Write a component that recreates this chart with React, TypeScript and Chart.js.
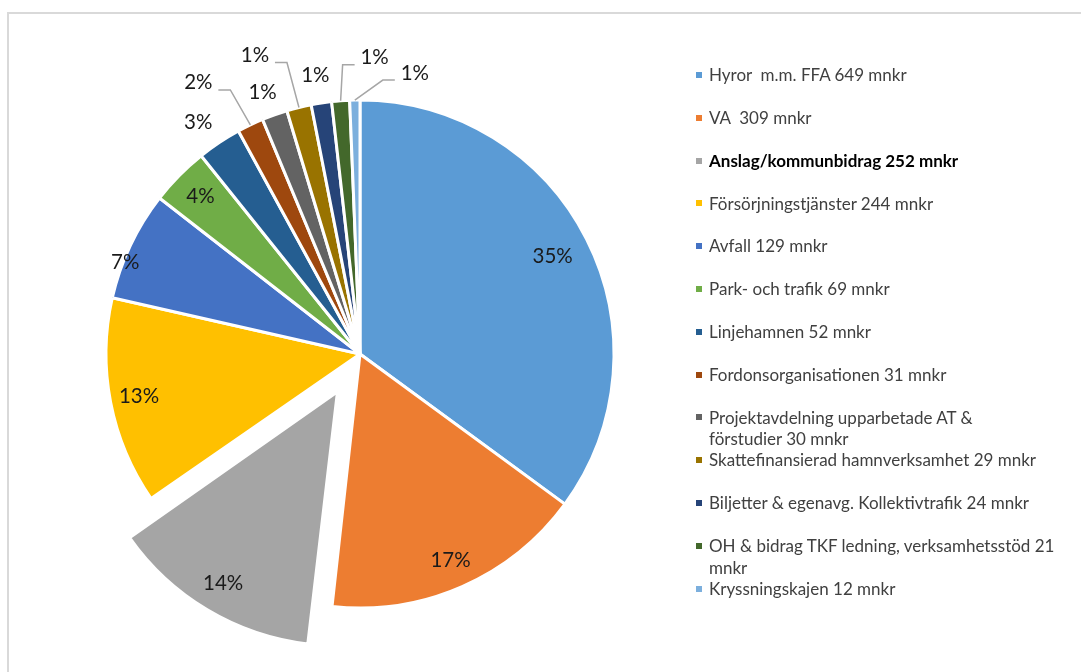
import React, { useEffect, useRef } from "react";
import { Chart, registerables } from "chart.js";

Chart.register(...registerables);

// ---- data ----
const categories = [
  "Hyror  m.m. FFA",
  "VA",
  "Anslag/kommunbidrag",
  "Försörjningstjänster",
  "Avfall",
  "Park- och trafik",
  "Linjehamnen",
  "Fordonsorganisationen",
  "Projektavdelning upparbetade AT & förstudier",
  "Skattefinansierad hamnverksamhet",
  "Biljetter & egenavg. Kollektivtrafik",
  "OH & bidrag TKF ledning, verksamhetsstöd",
  "Kryssningskajen",
];
const values = [649, 309, 252, 244, 129, 69, 52, 31, 30, 29, 24, 21, 12];
const pctLabels = ["35%", "17%", "14%", "13%", "7%", "4%", "3%", "2%", "1%", "1%", "1%", "1%", "1%"];
const legendLabels = [
  "Hyror  m.m. FFA 649 mnkr",
  "VA  309 mnkr",
  "Anslag/kommunbidrag 252 mnkr",
  "Försörjningstjänster 244 mnkr",
  "Avfall 129 mnkr",
  "Park- och trafik 69 mnkr",
  "Linjehamnen 52 mnkr",
  "Fordonsorganisationen 31 mnkr",
  "Projektavdelning upparbetade AT &\nförstudier 30 mnkr",
  "Skattefinansierad hamnverksamhet 29 mnkr",
  "Biljetter & egenavg. Kollektivtrafik 24 mnkr",
  "OH & bidrag TKF ledning, verksamhetsstöd 21\nmnkr",
  "Kryssningskajen 12 mnkr",
];
const boldLegendIndex = 2;
const explodedIndex = 2;

// ---- styles ----
const colors = [
  "#5B9BD5", "#ED7D31", "#A5A5A5", "#FFC000", "#4472C4", "#70AD47", "#255E91",
  "#9E480E", "#636363", "#997300", "#264478", "#43682B", "#7CAFDD",
];
const FONT = "Lato, 'Open Sans', sans-serif";
const EXPLODE_PX = 44;
const RADIUS = 254;

// label placement: radial distance from slice centre, then nudge; leader line flag
const labelPlacement = [
  { r: 216, dx: 0, dy: 0, leader: false },
  { r: 225, dx: 0, dy: 0, leader: false },
  { r: 223, dx: 0, dy: 0, leader: false },
  { r: 225, dx: 0, dy: 0, leader: false },
  { r: 252, dx: -7, dy: 16, leader: false },
  { r: 224, dx: 0, dy: 0, leader: false },
  { r: 254, dx: -21, dy: -20, leader: false },
  { r: 254, dx: -52, dy: -42, leader: true },
  { r: 254, dx: -12, dy: -22, leader: false },
  { r: 254, dx: -44, dy: -52, leader: true },
  { r: 254, dx: -6, dy: -28, leader: false },
  { r: 254, dx: 34, dy: -43, leader: true },
  { r: 254, dx: 60, dy: -27, leader: true },
];

const pieLabelPlugin = {
  id: "pieLabels",
  afterDatasetsUpdate(chart: any) {
    const meta = chart.getDatasetMeta(0);
    meta.data.forEach((arc: any) => {
      const off = (arc.options && arc.options.offset) || 0;
      if (off > 0) {
        const t = off / 4;
        const fix = 1 - Math.sin(Math.min(Math.PI, arc.circumference));
        arc.outerRadius = arc.outerRadius - t * fix;
      }
    });
  },
  afterDatasetsDraw(chart: any) {
    const ctx = chart.ctx;
    const meta = chart.getDatasetMeta(0);
    ctx.save();
    meta.data.forEach((arc: any, i: number) => {
      const p = labelPlacement[i];
      const mid = (arc.startAngle + arc.endAngle) / 2;
      const off = ((arc.options && arc.options.offset) || 0) / 4;
      const cx = arc.x + Math.cos(mid) * off;
      const cy = arc.y + Math.sin(mid) * off;
      const bx = cx + Math.cos(mid) * p.r;
      const by = cy + Math.sin(mid) * p.r;
      const lx = bx + p.dx;
      const ly = by + p.dy;
      if (p.leader) {
        const side = lx > bx ? -1 : 1;
        const sx = lx + side * 20;
        const sy = ly + 7;
        ctx.beginPath();
        ctx.strokeStyle = "#A6A6A6";
        ctx.lineWidth = 1.5;
        ctx.moveTo(sx, sy);
        ctx.lineTo(sx + side * 12, sy);
        ctx.lineTo(bx, by);
        ctx.stroke();
      }
      ctx.fillStyle = "#1A1A1A";
      ctx.font = `20.5px ${FONT}`;
      ctx.textAlign = "center";
      ctx.textBaseline = "middle";
      ctx.fillText(pctLabels[i], lx, ly);
    });
    ctx.restore();
  },
};

export default function App() {
  const canvasRef = useRef<HTMLCanvasElement | null>(null);

  useEffect(() => {
    if (!canvasRef.current) return;
    const chart = new Chart(canvasRef.current, {
      type: "pie",
      data: {
        labels: categories,
        datasets: [
          {
            data: values,
            backgroundColor: colors,
            borderColor: "#FFFFFF",
            borderWidth: 3,
            offset: values.map((_, i) => (i === explodedIndex ? EXPLODE_PX * 4 : 0)),
          } as any,
        ],
      },
      options: {
        responsive: false,
        animation: false,
        events: [],
        radius: RADIUS,
        layout: { padding: { left: 0, right: 361, top: 36, bottom: 0 } },
        plugins: {
          legend: { display: false },
          tooltip: { enabled: false },
        },
      } as any,
      plugins: [pieLabelPlugin],
    });
    return () => chart.destroy();
  }, []);

  return (
    <div
      style={{
        position: "absolute",
        left: 0,
        top: 0,
        width: 1081,
        height: 672,
        overflow: "hidden",
        background: "#FFFFFF",
        fontFamily: FONT,
      }}
    >
      <div
        style={{
          position: "absolute",
          left: 7,
          top: 12,
          width: 1200,
          height: 800,
          border: "2px solid #D9D9D9",
        }}
      />
      <canvas
        ref={canvasRef}
        width={1081}
        height={672}
        style={{ position: "absolute", left: 0, top: 0, width: 1081, height: 672 }}
      />
      <div style={{ position: "absolute", left: 696, top: 53.6 }}>
        {legendLabels.map((lab, i) => (
          <div
            key={i}
            style={{
              height: 42.8,
              display: "flex",
              alignItems: "flex-start",
              paddingTop: 10.65,
              boxSizing: "border-box",
            }}
          >
            <div
              style={{
                width: 6,
                height: 6,
                marginTop: 7.75,
                marginRight: 7,
                background: colors[i],
                flex: "none",
              }}
            />
            <div
              style={{
                fontSize: 17,
                lineHeight: "21.5px",
                whiteSpace: "pre",
                color: i === boldLegendIndex ? "#000000" : "#404040",
                fontWeight: i === boldLegendIndex ? 700 : 400,
              }}
            >
              {lab}
            </div>
          </div>
        ))}
      </div>
    </div>
  );
}
